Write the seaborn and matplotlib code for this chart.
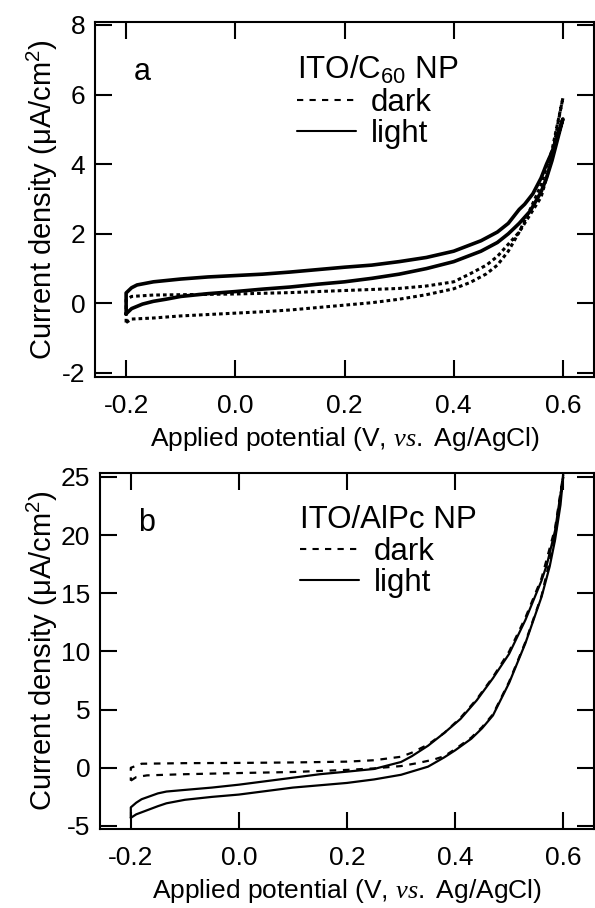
import numpy as np
import pandas as pd
import seaborn as sns
import matplotlib
matplotlib.use("Agg")
import matplotlib.pyplot as plt
from matplotlib.lines import Line2D

# ---- panel a: ITO/C60 NP (potential in V, current density in uA/cm2) ----
# forward scan (-0.2 -> 0.6) then reverse scan (0.6 -> -0.2)
a_light_v = [-0.2, -0.19, -0.17, -0.15, -0.127, -0.1, -0.05, 0.0, 0.05, 0.1, 0.15, 0.2,
             0.25, 0.3, 0.35, 0.4, 0.42, 0.45, 0.48, 0.5, 0.52, 0.54, 0.56, 0.57, 0.58,
             0.59, 0.6,
             0.59, 0.58, 0.57, 0.56, 0.545, 0.53, 0.52, 0.5, 0.48, 0.45, 0.42, 0.4, 0.35,
             0.3, 0.25, 0.2, 0.15, 0.1, 0.05, 0.0, -0.05, -0.1, -0.15, -0.18, -0.19, -0.2,
             -0.2]
a_light_j = [-0.3, -0.15, -0.02, 0.06, 0.12, 0.2, 0.28, 0.34, 0.41, 0.47, 0.55, 0.62,
             0.72, 0.84, 1.0, 1.2, 1.32, 1.5, 1.75, 2.0, 2.3, 2.65, 3.2, 3.6, 4.1,
             4.7, 5.3,
             4.8, 4.35, 4.0, 3.6, 3.15, 2.85, 2.7, 2.3, 2.05, 1.8, 1.62, 1.5, 1.32,
             1.2, 1.1, 1.04, 0.97, 0.9, 0.84, 0.8, 0.76, 0.7, 0.62, 0.53, 0.45, 0.3,
             -0.3]
a_dark_v = [-0.2, -0.19, -0.15, -0.1, -0.05, 0.0, 0.05, 0.1, 0.15, 0.2, 0.25, 0.3, 0.35,
            0.4, 0.43, 0.46, 0.48, 0.5, 0.52, 0.54, 0.56, 0.58, 0.6,
            0.59, 0.58, 0.57, 0.56, 0.54, 0.52, 0.5, 0.48, 0.46, 0.43, 0.4, 0.35, 0.3,
            0.2, 0.1, 0.0, -0.1, -0.15, -0.19, -0.2, -0.2]
a_dark_j = [-0.55, -0.45, -0.42, -0.36, -0.32, -0.28, -0.24, -0.19, -0.12, -0.05, 0.02,
            0.12, 0.25, 0.42, 0.6, 0.85, 1.1, 1.5, 2.05, 2.7, 3.4, 4.4, 5.9,
            5.1, 4.2, 3.6, 3.05, 2.55, 2.05, 1.7, 1.35, 1.1, 0.85, 0.62, 0.5, 0.43,
            0.37, 0.31, 0.27, 0.25, 0.24, 0.2, 0.1, -0.55]

# ---- panel b: ITO/AlPc NP ----
b_light_v = [-0.2, -0.19, -0.15, -0.134, -0.1, -0.05, 0.0, 0.05, 0.1, 0.15, 0.2, 0.25,
             0.3, 0.35, 0.38, 0.4, 0.43, 0.45, 0.47, 0.5, 0.53, 0.56, 0.575, 0.585,
             0.595, 0.6,
             0.595, 0.585, 0.57, 0.56, 0.53, 0.5, 0.47, 0.44, 0.41, 0.38, 0.35, 0.32,
             0.3, 0.25, 0.2, 0.15, 0.1, 0.05, 0.0, -0.05, -0.1, -0.134, -0.15, -0.18,
             -0.19, -0.2, -0.2]
b_light_j = [-4.3, -4.0, -3.3, -3.05, -2.75, -2.5, -2.3, -2.0, -1.7, -1.5, -1.3, -1.0,
             -0.6, 0.1, 0.9, 1.5, 2.5, 3.4, 4.5, 7.3, 10.7, 14.7, 17.3, 19.6,
             22.6, 25.0,
             23.5, 20.4, 17.5, 16.1, 12.7, 9.8, 7.7, 5.8, 4.2, 3.0, 1.9, 1.0,
             0.5, -0.1, -0.33, -0.55, -0.85, -1.15, -1.45, -1.7, -1.9, -2.04, -2.2,
             -2.7, -3.0, -3.4, -4.3]
b_dark_v = [-0.2, -0.19, -0.17, -0.1, 0.0, 0.1, 0.2, 0.25, 0.3, 0.33, 0.36, 0.38, 0.4,
            0.43, 0.45, 0.47, 0.5, 0.53, 0.56, 0.585, 0.6,
            0.585, 0.56, 0.53, 0.5, 0.47, 0.44, 0.41, 0.38, 0.35, 0.32, 0.3, 0.25, 0.2,
            0.1, 0.0, -0.1, -0.18, -0.2, -0.2]
b_dark_j = [-1.1, -0.8, -0.65, -0.55, -0.45, -0.36, -0.18, -0.05, 0.15, 0.4, 0.7, 1.0,
            1.6, 2.6, 3.5, 4.6, 7.4, 10.8, 14.8, 19.8, 25.2,
            20.6, 16.3, 12.9, 10.0, 7.8, 5.9, 4.3, 3.0, 2.0, 1.3, 0.95, 0.65, 0.53,
            0.46, 0.42, 0.4, 0.35, 0.0, -1.1]

sns.set_style("ticks")
plt.rcParams["font.family"] = ["Liberation Sans", "DejaVu Sans"]
plt.rcParams["mathtext.fontset"] = "custom"
plt.rcParams["mathtext.rm"] = "Liberation Sans"
plt.rcParams["mathtext.it"] = "Liberation Serif:italic"
plt.rcParams["mathtext.default"] = "regular"
plt.rcParams["text.color"] = "k"
plt.rcParams["axes.labelcolor"] = "k"

TICK_FS = 19
LEG_FS = 22.5
fig = plt.figure(figsize=(5.95, 9.08), dpi=100)
ax_a = fig.add_axes([95 / 595, 1 - 377 / 908, 499 / 595, 355 / 908])
ax_b = fig.add_axes([100 / 595, 1 - 829 / 908, 494 / 595, 356 / 908])


def style_axes(ax, ylim, yticks, letter, title):
    ax.set_xlim(-0.257, 0.657)
    ax.set_ylim(*ylim)
    ax.set_xticks([-0.2, 0.0, 0.2, 0.4, 0.6])
    ax.set_xticklabels(["-0.2", "0.0", "0.2", "0.4", "0.6"])
    ax.set_yticks(yticks)
    ax.set_yticklabels([str(t) for t in yticks])
    for sp in ax.spines.values():
        sp.set_visible(True)
        sp.set_linewidth(1.5)
        sp.set_color("k")
    ax.tick_params(axis="both", direction="in", length=12, width=1.5,
                   top=True, right=True, labelsize=TICK_FS, colors="k")
    ax.tick_params(axis="x", pad=12)
    ax.tick_params(axis="y", pad=7)
    ax.set_xlabel("Applied potential (V, $\\mathit{vs.}$ Ag/AgCl)", fontsize=19,
                  labelpad=5)
    ax.set_ylabel("Current density (μA/cm$^{2}$)", fontsize=21, labelpad=1)
    ax.text(0.094, 0.86, letter, transform=ax.transAxes, fontsize=22,
            ha="center", va="center")
    handles = [Line2D([], [], color="k", lw=1.5, linestyle=(0, (3, 3))),
               Line2D([], [], color="k", lw=1.5)]
    ax.legend(handles, ["dark", "light"], title=title, loc="upper left",
              bbox_to_anchor=(0.405, 0.91), frameon=False, fontsize=LEG_FS,
              title_fontsize=LEG_FS, handlelength=1.9, handletextpad=0.45,
              labelspacing=0.05, borderpad=0, borderaxespad=0, alignment="left")


sns.lineplot(x=a_light_v, y=a_light_j, sort=False, estimator=None, ax=ax_a,
             color="k", lw=2.6)
sns.lineplot(x=a_dark_v, y=a_dark_j, sort=False, estimator=None, ax=ax_a,
             color="k", lw=2.2, linestyle=(0, (1.2, 1.0)))
style_axes(ax_a, (-2.115, 8.086), [-2, 0, 2, 4, 6, 8], "a", "ITO/C$_{60}$ NP")

sns.lineplot(x=b_light_v, y=b_light_j, sort=False, estimator=None, ax=ax_b,
             color="k", lw=1.6)
sns.lineplot(x=b_dark_v, y=b_dark_j, sort=False, estimator=None, ax=ax_b,
             color="k", lw=1.6, linestyle=(0, (3, 3)))
style_axes(ax_b, (-5.26, 25.34), [-5, 0, 5, 10, 15, 20, 25], "b", "ITO/AlPc NP")

fig.savefig("out.png", dpi=100)
